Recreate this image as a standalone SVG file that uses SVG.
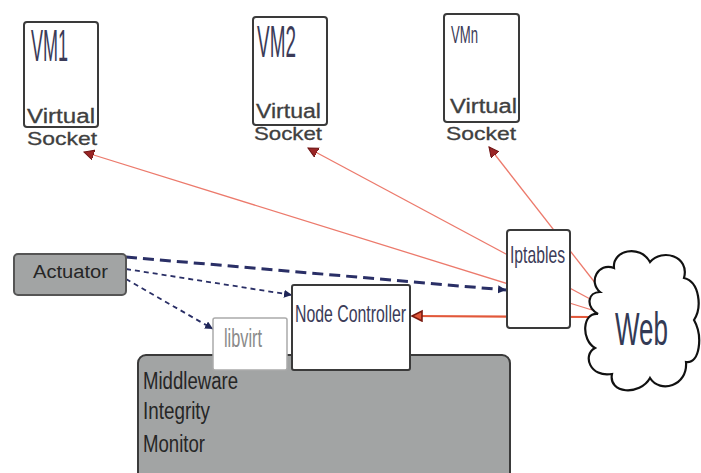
<svg xmlns="http://www.w3.org/2000/svg" width="701" height="473" viewBox="0 0 701 473">
  <style>
    .box { fill: #ffffff; stroke: #3a3a3a; stroke-width: 2; }
    .gray { fill: #a2a4a4; stroke: #3a3a3a; stroke-width: 2; }
    .vm { font-family: "Liberation Sans", Arial, sans-serif; fill: #3b3b58; }
    .lbl { font-family: "Liberation Sans", Arial, sans-serif; fill: #404040; stroke: #404040; stroke-width: 0.3; }
    .dark { font-family: "Liberation Sans", Arial, sans-serif; fill: #262626; }
    .red { fill: none; stroke: #ec7a6c; stroke-width: 1.3; }
    .redthick { fill: none; stroke: #e2583a; stroke-width: 2.2; }
    .dash { fill: none; stroke: #2a2f66; stroke-width: 1.8; stroke-dasharray: 5 4; }
    .dashthick { fill: none; stroke: #2a2f66; stroke-width: 3; stroke-dasharray: 11 6; }
  </style>
  <defs>
    <marker id="redHead" markerUnits="userSpaceOnUse" markerWidth="12" markerHeight="12" refX="10" refY="5" orient="auto">
      <path d="M0,0 L10,5 L0,10 Z" fill="#9a2626" stroke="#6e1414" stroke-width="1"/>
    </marker>
    <marker id="ncHead" markerUnits="userSpaceOnUse" markerWidth="14" markerHeight="14" refX="11" refY="6" orient="auto">
      <path d="M1,1 L11,6 L1,11 Z" fill="#e2583a" stroke="#7a1a10" stroke-width="1.6"/>
    </marker>
    <marker id="navyHead" markerUnits="userSpaceOnUse" markerWidth="10" markerHeight="10" refX="8" refY="4" orient="auto">
      <path d="M0,0 L8,4 L0,8 Z" fill="#1f2658"/>
    </marker>
  </defs>

  <!-- connectors -->
  <g id="connectors">
    <path class="red" d="M592,310 L84,152" marker-end="url(#redHead)"/>
    <path class="red" d="M592,300 L308,148" marker-end="url(#redHead)"/>
    <path class="red" d="M596,284 L489,147" marker-end="url(#redHead)"/>
    <path class="redthick" d="M592,317 L412,316" marker-end="url(#ncHead)"/>
    <path class="dashthick" d="M126,257 L506,290" marker-end="url(#navyHead)"/>
    <path class="dash" d="M126,269 L292,295" marker-end="url(#navyHead)"/>
    <path class="dash" d="M126,279 L213,329" marker-end="url(#navyHead)"/>
  </g>

  <!-- virtual machines -->
  <g id="vm1">
    <rect class="box" x="24" y="22" width="74" height="105" rx="3"/>
    <text class="vm" x="31" y="61" font-size="44" textLength="37" lengthAdjust="spacingAndGlyphs">VM1</text>
    <text class="lbl" x="27" y="123" font-size="20" textLength="68" lengthAdjust="spacingAndGlyphs">Virtual</text>
    <text class="lbl" x="27" y="145" font-size="19" textLength="70" lengthAdjust="spacingAndGlyphs">Socket</text>
  </g>
  <g id="vm2">
    <rect class="box" x="253" y="17" width="74" height="108" rx="3"/>
    <text class="vm" x="257" y="57" font-size="44" textLength="39" lengthAdjust="spacingAndGlyphs">VM2</text>
    <text class="lbl" x="256" y="118" font-size="20" textLength="65" lengthAdjust="spacingAndGlyphs">Virtual</text>
    <text class="lbl" x="254" y="140" font-size="19" textLength="68" lengthAdjust="spacingAndGlyphs">Socket</text>
  </g>
  <g id="vmn">
    <rect class="box" x="444" y="14" width="75" height="108" rx="3"/>
    <text class="vm" x="451" y="43" font-size="24" textLength="27" lengthAdjust="spacingAndGlyphs">VMn</text>
    <text class="lbl" x="450" y="113" font-size="20" textLength="67" lengthAdjust="spacingAndGlyphs">Virtual</text>
    <text class="lbl" x="446" y="140" font-size="19" textLength="70" lengthAdjust="spacingAndGlyphs">Socket</text>
  </g>

  <!-- control components -->
  <g id="actuator">
    <rect class="gray" x="14" y="254" width="112" height="41" rx="4" style="stroke:#555"/>
    <text class="dark" x="33" y="278" font-size="18" textLength="75" lengthAdjust="spacingAndGlyphs">Actuator</text>
  </g>
  <g id="middleware">
    <rect class="gray" x="138" y="355" width="372" height="135" rx="8"/>
    <text class="dark" x="143" y="389" font-size="23" textLength="95" lengthAdjust="spacingAndGlyphs">Middleware</text>
    <text class="dark" x="143" y="419" font-size="23" textLength="67" lengthAdjust="spacingAndGlyphs">Integrity</text>
    <text class="dark" x="143" y="452" font-size="23" textLength="62" lengthAdjust="spacingAndGlyphs">Monitor</text>
  </g>
  <g id="libvirt">
    <rect class="box" x="213" y="318" width="74" height="52" rx="2" style="stroke:#aaa;stroke-width:1.5"/>
    <text x="224" y="347" font-family="Liberation Sans, Arial, sans-serif" font-size="26" fill="#8a8a8a" textLength="38" lengthAdjust="spacingAndGlyphs">libvirt</text>
  </g>
  <g id="node-controller">
    <rect class="box" x="292" y="285" width="118" height="85" rx="2"/>
    <text class="vm" x="295" y="322" font-size="24" textLength="111" lengthAdjust="spacingAndGlyphs">Node Controller</text>
  </g>
  <g id="iptables">
    <rect class="box" x="507" y="230" width="63" height="98" rx="3"/>
    <text class="vm" x="510" y="263" font-size="24" textLength="55" lengthAdjust="spacingAndGlyphs">Iptables</text>
  </g>
  <g id="web">
    <path d="M600,292 C588,282 598,262 614,268 C612,250 640,244 650,262 C662,248 690,256 684,278 C700,282 702,308 694,320 C703,336 700,364 686,362 C688,386 660,394 650,378 C640,396 608,394 612,374 C590,378 582,355 595,348 C581,340 582,312 598,314 C585,306 588,292 600,292 Z" fill="#ffffff" stroke="#111" stroke-width="2.2"/>
    <text transform="translate(615,345) scale(1,1.3)" x="0" y="0" font-family="Liberation Sans, Arial, sans-serif" font-size="35" fill="#333a55" textLength="53" lengthAdjust="spacingAndGlyphs">Web</text>
  </g>
</svg>
